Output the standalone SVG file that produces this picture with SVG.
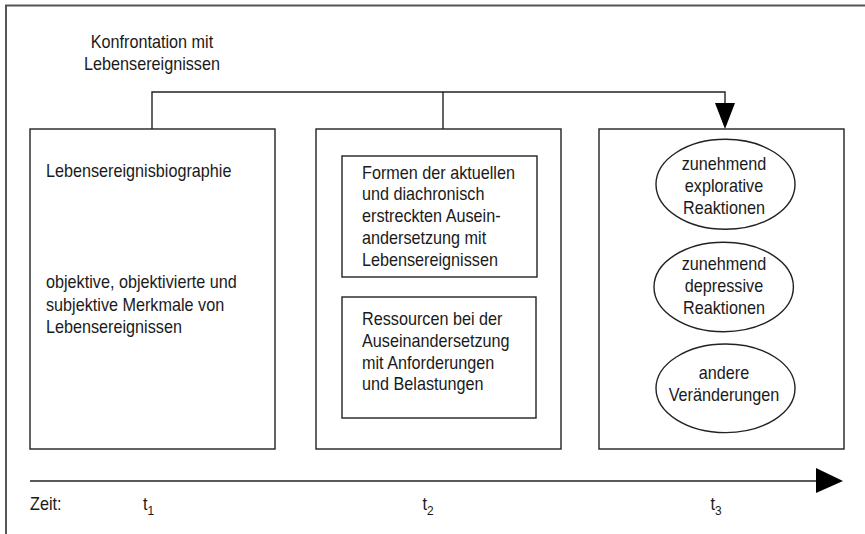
<svg xmlns="http://www.w3.org/2000/svg" width="865" height="534" viewBox="0 0 865 534">
<style>
text { font-family: "Liberation Sans", Arial, sans-serif; font-size: 18.4px; fill: #1a1a1a; }
.box { fill: none; stroke: #222; stroke-width: 1.4; }
.line { fill: none; stroke: #222; stroke-width: 1.4; }
.mid { text-anchor: middle; }
.sub { font-size: 13.5px; }
</style>
<rect width="865" height="534" fill="#fff"/>
<rect id="frame" x="6" y="5.5" width="880" height="540" fill="none" stroke="#555" stroke-width="2"/>

<g id="title">
  <text class="mid" transform="translate(152 47.5) scale(0.88 1)">Konfrontation mit</text>
  <text class="mid" transform="translate(152 70) scale(0.88 1)">Lebensereignissen</text>
</g>

<g id="connectors">
  <polyline class="line" points="152,129 152,92 725,92 725,105"/>
  <line class="line" x1="443" y1="92" x2="443" y2="129"/>
  <polygon points="715,103 735,103 725,129" fill="#000"/>
  <line class="line" x1="30" y1="481" x2="818" y2="481"/>
  <polygon points="816,468 843,481 816,493" fill="#000"/>
</g>

<g id="box1">
  <rect class="box" x="30" y="129" width="245" height="320"/>
  <text transform="translate(46 177) scale(0.88 1)">Lebensereignisbiographie</text>
  <text transform="translate(46 288) scale(0.88 1)">objektive, objektivierte und</text>
  <text transform="translate(46 310.5) scale(0.88 1)">subjektive Merkmale von</text>
  <text transform="translate(46 333) scale(0.88 1)">Lebensereignissen</text>
</g>

<g id="box2">
  <rect class="box" x="316" y="129" width="245" height="320"/>
</g>
<g id="box2a">
  <rect class="box" x="342" y="156" width="195" height="121"/>
  <text transform="translate(362 178.5) scale(0.88 1)">Formen der aktuellen</text>
  <text transform="translate(362 200.3) scale(0.88 1)">und diachronisch</text>
  <text transform="translate(362 222.1) scale(0.88 1)">erstreckten Ausein-</text>
  <text transform="translate(362 243.9) scale(0.88 1)">andersetzung mit</text>
  <text transform="translate(362 265.7) scale(0.88 1)">Lebensereignissen</text>
</g>
<g id="box2b">
  <rect class="box" x="342" y="297" width="194" height="121"/>
  <text transform="translate(362 325) scale(0.88 1)">Ressourcen bei der</text>
  <text transform="translate(362 346.8) scale(0.88 1)">Auseinandersetzung</text>
  <text transform="translate(362 368.6) scale(0.88 1)">mit Anforderungen</text>
  <text transform="translate(362 390.4) scale(0.88 1)">und Belastungen</text>
</g>

<g id="box3">
  <rect class="box" x="599" y="129" width="245" height="320"/>
</g>
<g id="ell1">
  <ellipse class="box" cx="725.5" cy="184.3" rx="69.5" ry="45"/>
  <text class="mid" transform="translate(724 169.5) scale(0.88 1)">zunehmend</text>
  <text class="mid" transform="translate(724 191.5) scale(0.88 1)">explorative</text>
  <text class="mid" transform="translate(724 213.5) scale(0.88 1)">Reaktionen</text>
</g>
<g id="ell2">
  <ellipse class="box" cx="723.7" cy="287" rx="69.7" ry="44.7"/>
  <text class="mid" transform="translate(724 270) scale(0.88 1)">zunehmend</text>
  <text class="mid" transform="translate(724 292) scale(0.88 1)">depressive</text>
  <text class="mid" transform="translate(724 314) scale(0.88 1)">Reaktionen</text>
</g>
<g id="ell3">
  <ellipse class="box" cx="725.5" cy="388.3" rx="69.5" ry="44.3"/>
  <text class="mid" transform="translate(724 378.5) scale(0.88 1)">andere</text>
  <text class="mid" transform="translate(724 400.7) scale(0.88 1)">Veränderungen</text>
</g>

<g id="timeline">
  <text transform="translate(30 510) scale(0.88 1)">Zeit:</text>
  <text transform="translate(143 510) scale(0.88 1)">t<tspan class="sub" dy="5">1</tspan></text>
  <text transform="translate(422.5 510) scale(0.88 1)">t<tspan class="sub" dy="5">2</tspan></text>
  <text transform="translate(710.5 510) scale(0.88 1)">t<tspan class="sub" dy="5">3</tspan></text>
</g>
</svg>
